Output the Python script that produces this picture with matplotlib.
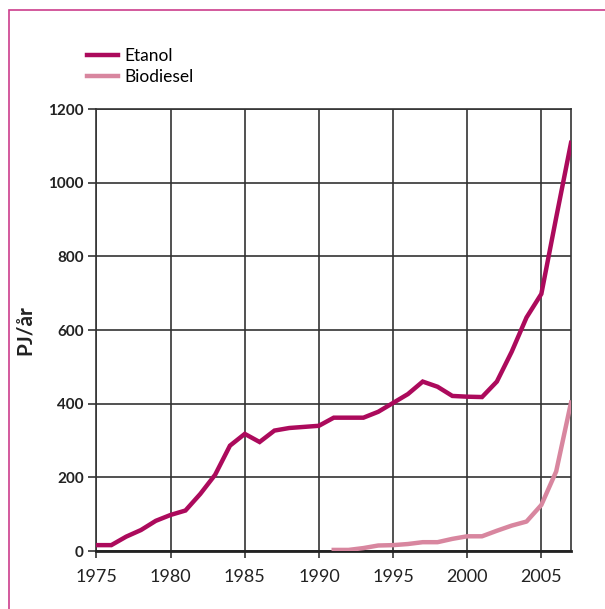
import matplotlib.pyplot as plt
from matplotlib.patches import Rectangle

years_etanol = list(range(1975, 2008))
etanol = [16, 16, 39, 57, 82, 98, 110, 155, 207, 286, 318, 296, 327, 334, 337, 340,
          362, 362, 362, 378, 402, 426, 460, 446, 421, 419, 418, 460, 541, 634, 698, 905, 1108]

years_bio = list(range(1991, 2008))
biodiesel = [3, 3, 8, 15, 16, 19, 24, 24, 33, 40, 40, 55, 69, 80, 125, 216, 403]

xticks = [1975, 1980, 1985, 1990, 1995, 2000, 2005]
yticks = [0, 200, 400, 600, 800, 1000, 1200]

plt.rcParams['font.family'] = ['Lato', 'DejaVu Sans']

fig = plt.figure(figsize=(6.05, 6.09), dpi=100)
ax = fig.add_axes([0.1595, 0.0952, 0.7843, 0.7258])

# magenta frame around the figure
fig.patches.append(Rectangle((0.0149, -0.05), 1.2, 0.9836 + 0.05, transform=fig.transFigure,
                             fill=False, edgecolor="#cc3d8c", linewidth=1.2, clip_on=False))

line1, = ax.plot(years_etanol, etanol, color="#ac0a5c", linewidth=3.2, solid_joinstyle="miter",
                 label="Etanol", zorder=3)
line2, = ax.plot(years_bio, biodiesel, color="#d8869f", linewidth=3.2, label="Biodiesel", zorder=3)

ax.set_xlim(1975, 2007)
ax.set_ylim(0, 1200)
ax.set_xticks(xticks)
ax.set_yticks(yticks)
ax.grid(True, color="#333333", linewidth=1.2)
ax.set_axisbelow(True)

for s in ["top", "right", "left"]:
    ax.spines[s].set_color("#333333")
    ax.spines[s].set_linewidth(1.2)
ax.spines["bottom"].set_color("#222222")
ax.spines["bottom"].set_linewidth(2)

ax.tick_params(axis="y", length=6, width=1.2, color="#333333", labelsize=11, pad=3)
ax.tick_params(axis="x", length=5, width=1.2, color="#333333", labelsize=13, pad=8)
for lab in ax.get_yticklabels():
    lab.set_fontweight("bold")
    lab.set_color("#222222")
for lab in ax.get_xticklabels():
    lab.set_color("#222222")

ax.set_ylabel("PJ/år", fontsize=15, fontweight="bold", color="#222222", labelpad=10)

fig.legend(handles=[line1, line2], loc="upper left", bbox_to_anchor=(0.133, 0.933),
           frameon=False, fontsize=12.5, handlelength=1.75, handletextpad=0.4,
           labelspacing=0.3, borderaxespad=0)

fig.savefig("out.png", dpi=100)
